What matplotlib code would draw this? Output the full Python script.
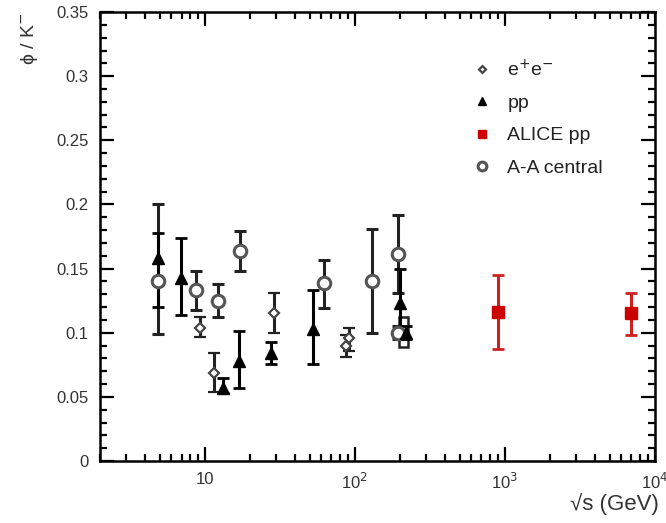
import matplotlib
matplotlib.use("Agg")
import matplotlib.pyplot as plt
from matplotlib.patches import Rectangle
from matplotlib.ticker import FixedLocator, MultipleLocator, LogLocator, NullFormatter
import numpy as np

plt.rcParams['font.family'] = ['Liberation Sans', 'DejaVu Sans']

# e+e- (open diamonds)
ee_x = [9.3, 11.5, 29, 87, 92]
ee_y = [0.104, 0.069, 0.115, 0.090, 0.096]
ee_lo = [0.097, 0.054, 0.100, 0.081, 0.086]
ee_hi = [0.112, 0.084, 0.131, 0.098, 0.104]

# pp (filled triangles)
pp_x = [4.9, 6.9, 13.2, 17.0, 27.5, 53, 200, 219]
pp_y = [0.158, 0.143, 0.057, 0.078, 0.084, 0.103, 0.123, 0.100]
pp_lo = [0.120, 0.114, 0.053, 0.057, 0.076, 0.076, 0.100, 0.095]
pp_hi = [0.178, 0.174, 0.065, 0.101, 0.093, 0.133, 0.150, 0.105]

# ALICE pp (red squares)
alice_x = [900, 7000]
alice_y = [0.116, 0.115]
alice_lo = [0.087, 0.098]
alice_hi = [0.145, 0.131]

# A-A central (open circles)
aa_x = [4.9, 8.8, 12.3, 17.3, 62.4, 130, 194, 194]
aa_y = [0.140, 0.133, 0.125, 0.164, 0.139, 0.140, 0.161, 0.100]
aa_lo = [0.099, 0.118, 0.112, 0.148, 0.119, 0.100, 0.131, 0.095]
aa_hi = [0.200, 0.148, 0.138, 0.179, 0.157, 0.181, 0.192, 0.105]

# systematic box at 200 GeV
box_x0 = [197]
box_x1 = [226]
box_lo = [0.089]
box_hi = [0.112]

y_ticks = [0, 0.05, 0.1, 0.15, 0.2, 0.25, 0.3, 0.35]
y_labels = ['0', '0.05', '0.1', '0.15', '0.2', '0.25', '0.3', '0.35']
x_ticks = [10, 100, 1000, 10000]
x_labels = ['10', '10$^{2}$', '10$^{3}$', '10$^{4}$']

fig = plt.figure(figsize=(6.66, 5.23), dpi=100)
ax = fig.add_axes([0.150, 0.1185, 0.833, 0.8585])

def eb(x, y, lo, hi, **kw):
    y = np.array(y); lo = np.array(lo); hi = np.array(hi)
    return ax.errorbar(x, y, yerr=[y - lo, hi - y], capsize=4, capthick=2,
                       elinewidth=2.2, linestyle='none', **kw)

eb(aa_x, aa_y, aa_lo, aa_hi, color='#222222', marker='o', ms=9,
   mfc='white', mec='#555555', mew=2.2, ecolor='#222222', label='A-A central')
eb(pp_x, pp_y, pp_lo, pp_hi, color='black', marker='^', ms=8,
   mfc='black', mec='black', ecolor='black', label='pp')
eb(ee_x, ee_y, ee_lo, ee_hi, color='#333333', marker='D', ms=5,
   mfc='white', mec='#444444', mew=1.6, ecolor='#222222', label='e$^{+}$e$^{-}$')
eb(alice_x, alice_y, alice_lo, alice_hi, color='#cc0000', marker='s', ms=8,
   mfc='#cc0000', mec='#cc0000', ecolor='#cc2222', label='ALICE pp')

for x0, x1, lo, hi in zip(box_x0, box_x1, box_lo, box_hi):
    ax.add_patch(Rectangle((x0, lo), x1 - x0, hi - lo, fill=False,
                           edgecolor='#222222', linewidth=1.8))

ax.set_xscale('log')
ax.set_xlim(2, 1e4)
ax.set_ylim(0, 0.35)

ax.yaxis.set_major_locator(FixedLocator(y_ticks))
ax.yaxis.set_minor_locator(MultipleLocator(0.01))
ax.set_yticklabels(y_labels)
ax.xaxis.set_major_locator(FixedLocator(x_ticks))
ax.xaxis.set_minor_locator(LogLocator(base=10, subs=np.arange(2, 10)))
ax.xaxis.set_minor_formatter(NullFormatter())
ax.set_xticklabels(x_labels)

ax.tick_params(which='both', direction='in', top=True, right=True,
               labelsize=12, labelcolor='#333333', width=1.6)
ax.tick_params(which='major', length=10, pad=8)
ax.tick_params(which='minor', length=5)
for s in ax.spines.values():
    s.set_linewidth(1.8)

fig.text(0.045, 0.975, '\u03d5 / K$^{-}$', rotation=90, ha='center', va='top',
         fontsize=14, color='#333333')
fig.text(0.99, 0.015, '\u221as (GeV)', ha='right', va='bottom',
         fontsize=16, color='#333333')

h, l = ax.get_legend_handles_labels()
order = [l.index('e$^{+}$e$^{-}$'), l.index('pp'), l.index('ALICE pp'), l.index('A-A central')]
leg = ax.legend([h[i][0] for i in order], [l[i] for i in order],
                loc='upper left', bbox_to_anchor=(0.64, 0.935), frameon=False,
                fontsize=14, handlelength=1.0, handletextpad=0.8,
                labelspacing=0.75, markerscale=0.7)
for t in leg.get_texts():
    t.set_color('#222222')

fig.savefig('out.png', dpi=100)
